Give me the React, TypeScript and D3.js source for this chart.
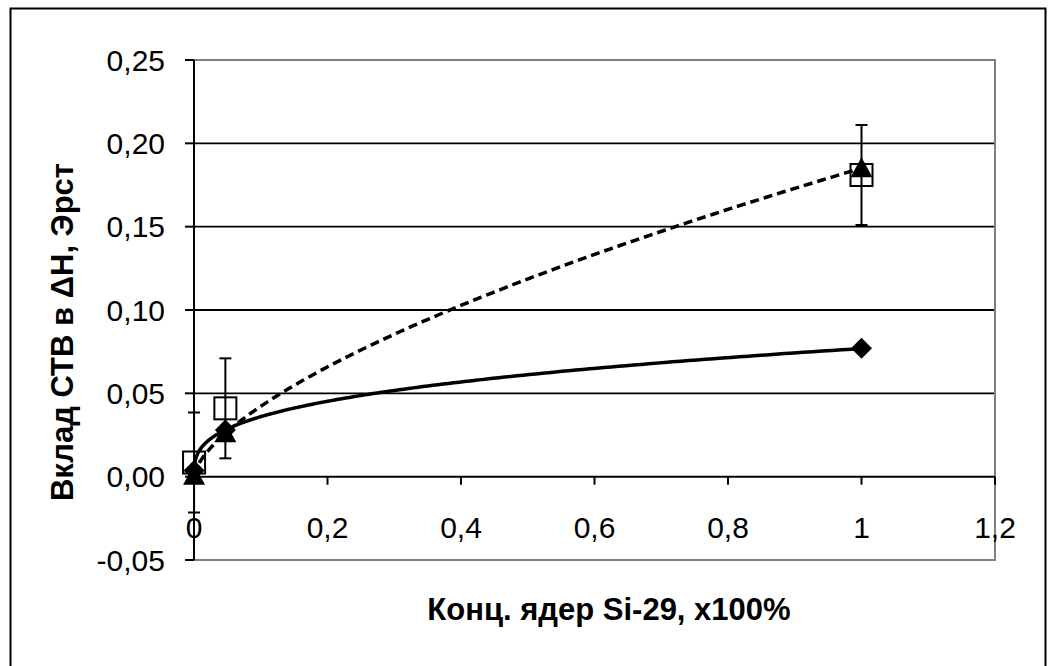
import React, { useEffect, useRef } from "react";
import * as d3 from "d3";

// Si-29 concentration (fraction) for each sample
const concX = [0.0001, 0.047, 1];
// calculated contribution (diamonds, solid trend)
const diamondY = [0.0037, 0.028, 0.077];
// second estimate (triangles, dashed trend)
const triangleY = [0.0005, 0.026, 0.185];
// experimental points (squares) with error bars
const squareY = [0.0085, 0.041, 0.181];
const squareErr = [0.03, 0.03, 0.03];

const xTicks = [0, 0.2, 0.4, 0.6, 0.8, 1, 1.2];
const xTickLabels = ["0", "0,2", "0,4", "0,6", "0,8", "1", "1,2"];
const yTicks = [-0.05, 0, 0.05, 0.1, 0.15, 0.2, 0.25];
const yTickLabels = ["-0,05", "0,00", "0,05", "0,10", "0,15", "0,20", "0,25"];

const FONT = "'Liberation Sans', Arial, sans-serif";

// power trend y = a * x^b, least squares in log space (like Excel)
function powerFit(xs: number[], ys: number[]) {
  const lx = xs.map(Math.log);
  const ly = ys.map(Math.log);
  const mx = d3.mean(lx) as number;
  const my = d3.mean(ly) as number;
  let sxy = 0;
  let sxx = 0;
  lx.forEach((v, i) => {
    sxy += (v - mx) * (ly[i] - my);
    sxx += (v - mx) * (v - mx);
  });
  const b = sxy / sxx;
  const a = Math.exp(my - b * mx);
  return { a, b };
}

const Chart = () => {
  const ref = useRef<SVGSVGElement>(null);

  useEffect(() => {
    const svg = d3.select(ref.current);
    svg.selectAll("*").remove();

    const left = 194;
    const right = 995;
    const top = 60;
    const bottom = 560;

    const x = d3.scaleLinear().domain([0, 1.2]).range([left, right]);
    const y = d3.scaleLinear().domain([-0.05, 0.25]).range([bottom, top]);

    // outer chart frame
    svg
      .append("rect")
      .attr("x", 10.5)
      .attr("y", 8.5)
      .attr("width", 1035)
      .attr("height", 700)
      .attr("fill", "white")
      .attr("stroke", "black")
      .attr("stroke-width", 2);

    // gridlines
    svg
      .append("g")
      .selectAll("line")
      .data(yTicks.filter((t) => t > 0 && t < 0.25))
      .enter()
      .append("line")
      .attr("x1", left)
      .attr("x2", right)
      .attr("y1", (d) => y(d))
      .attr("y2", (d) => y(d))
      .attr("stroke", "black")
      .attr("stroke-width", 1.8);

    // plot area border (grey)
    svg
      .append("rect")
      .attr("x", left)
      .attr("y", top)
      .attr("width", right - left)
      .attr("height", bottom - top)
      .attr("fill", "none")
      .attr("stroke", "#808080")
      .attr("stroke-width", 2);

    // y axis
    svg
      .append("line")
      .attr("x1", left)
      .attr("x2", left)
      .attr("y1", top)
      .attr("y2", bottom)
      .attr("stroke", "black")
      .attr("stroke-width", 2);
    svg
      .append("g")
      .selectAll("line")
      .data(yTicks)
      .enter()
      .append("line")
      .attr("x1", left - 9)
      .attr("x2", left)
      .attr("y1", (d) => y(d))
      .attr("y2", (d) => y(d))
      .attr("stroke", "black")
      .attr("stroke-width", 2);
    svg
      .append("g")
      .selectAll("text")
      .data(yTicks)
      .enter()
      .append("text")
      .attr("x", 165)
      .attr("y", (d) => y(d))
      .attr("dy", "0.36em")
      .attr("text-anchor", "end")
      .attr("font-family", FONT)
      .attr("font-size", 30)
      .text((d, i) => yTickLabels[i]);

    // x axis at y = 0
    svg
      .append("line")
      .attr("x1", left)
      .attr("x2", right)
      .attr("y1", y(0))
      .attr("y2", y(0))
      .attr("stroke", "black")
      .attr("stroke-width", 2);
    svg
      .append("g")
      .selectAll("line")
      .data(xTicks)
      .enter()
      .append("line")
      .attr("x1", (d) => x(d))
      .attr("x2", (d) => x(d))
      .attr("y1", y(0))
      .attr("y2", y(0) + 8)
      .attr("stroke", "black")
      .attr("stroke-width", 2);
    svg
      .append("g")
      .selectAll("text")
      .data(xTicks)
      .enter()
      .append("text")
      .attr("x", (d) => x(d))
      .attr("y", 538)
      .attr("text-anchor", "middle")
      .attr("font-family", FONT)
      .attr("font-size", 30)
      .text((d, i) => xTickLabels[i]);

    // axis titles
    svg
      .append("text")
      .attr("transform", "translate(73,332) rotate(-90)")
      .attr("text-anchor", "middle")
      .attr("font-family", FONT)
      .attr("font-weight", "bold")
      .attr("font-size", 31)
      .text("Вклад СТВ в ΔН, Эрст");
    svg
      .append("text")
      .attr("x", 609)
      .attr("y", 620)
      .attr("text-anchor", "middle")
      .attr("font-family", FONT)
      .attr("font-weight", "bold")
      .attr("font-size", 31)
      .text("Конц. ядер Si-29, х100%");

    // trend lines
    const x0 = d3.min(concX) as number;
    const x1 = d3.max(concX) as number;
    const samples = d3.range(0, 201).map((i) => x0 + (x1 - x0) * Math.pow(i / 200, 3));
    const trend = (ys: number[]) => {
      const { a, b } = powerFit(concX, ys);
      return samples.map((v) => [v, a * Math.pow(v, b)] as [number, number]);
    };
    const line = d3
      .line<[number, number]>()
      .x((d) => x(d[0]))
      .y((d) => y(d[1]));

    svg
      .append("path")
      .attr("d", line(trend(diamondY)))
      .attr("fill", "none")
      .attr("stroke", "black")
      .attr("stroke-width", 3.5);
    svg
      .append("path")
      .attr("d", line(trend(triangleY)))
      .attr("fill", "none")
      .attr("stroke", "black")
      .attr("stroke-width", 3.5)
      .attr("stroke-dasharray", "9,5");

    // error bars on squares
    const eb = svg.append("g").attr("stroke", "black").attr("stroke-width", 2);
    concX.forEach((cx, i) => {
      const yt = y(squareY[i] + squareErr[i]);
      const yb = y(squareY[i] - squareErr[i]);
      eb.append("line").attr("x1", x(cx)).attr("x2", x(cx)).attr("y1", yt).attr("y2", yb);
      eb.append("line").attr("x1", x(cx) - 6).attr("x2", x(cx) + 6).attr("y1", yt).attr("y2", yt);
      eb.append("line").attr("x1", x(cx) - 6).attr("x2", x(cx) + 6).attr("y1", yb).attr("y2", yb);
    });

    // squares
    svg
      .append("g")
      .selectAll("rect")
      .data(squareY)
      .enter()
      .append("rect")
      .attr("x", (d, i) => x(concX[i]) - 11)
      .attr("y", (d) => y(d) - 11)
      .attr("width", 22)
      .attr("height", 22)
      .attr("fill", "none")
      .attr("stroke", "black")
      .attr("stroke-width", 2);

    // diamonds
    svg
      .append("g")
      .selectAll("path")
      .data(diamondY)
      .enter()
      .append("path")
      .attr("transform", (d, i) => `translate(${x(concX[i])},${y(d)})`)
      .attr("d", "M0,-10.5L10.5,0L0,10.5L-10.5,0Z")
      .attr("fill", "black");

    // triangles
    svg
      .append("g")
      .selectAll("path")
      .data(triangleY)
      .enter()
      .append("path")
      .attr("transform", (d, i) => `translate(${x(concX[i])},${y(d)})`)
      .attr("d", "M0,-11L11,9L-11,9Z")
      .attr("fill", "black");
  }, []);

  return (
    <svg
      ref={ref}
      width={1054}
      height={666}
      style={{ position: "absolute", left: 0, top: 0, display: "block" }}
    />
  );
};

export default function App() {
  return <Chart />;
}
